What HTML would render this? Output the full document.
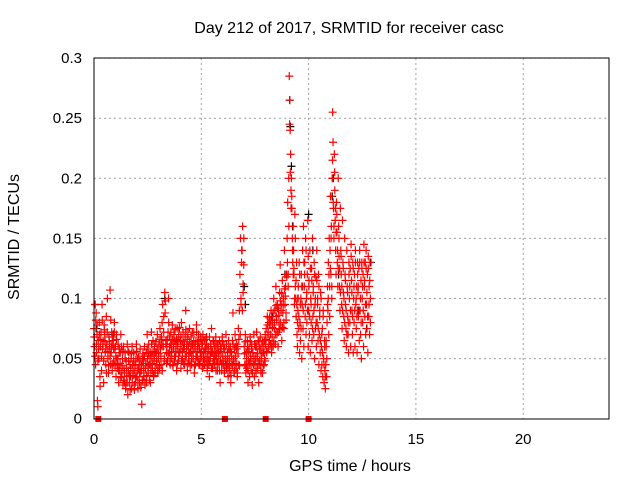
<!DOCTYPE html>
<html><head><meta charset="utf-8"><style>
body{margin:0;background:#fff;font-family:"Liberation Sans",sans-serif}
</style></head><body>
<svg id="chart" width="640" height="480" xmlns="http://www.w3.org/2000/svg" font-family="Liberation Sans, sans-serif">
<rect width="640" height="480" fill="#fff"/>
<text x="349" y="33" font-size="16" text-anchor="middle">Day 212 of 2017, SRMTID for receiver casc</text>
<text transform="translate(19,237) rotate(-90)" font-size="16" text-anchor="middle">SRMTID / TECUs</text>
<text x="350" y="471" font-size="16" text-anchor="middle">GPS time / hours</text>
<g id="grid"></g><g id="ticks"></g><g id="marks"></g>
<rect x="94" y="58" width="515" height="361" fill="none" stroke="#000" stroke-width="1"/>
</svg>
<script>
const xTicks=[0,5,10,15,20];
const yTicks=[0,0.05,0.1,0.15,0.2,0.25,0.3];
const yTickLabels=["0","0.05","0.1","0.15","0.2","0.25","0.3"];
const gapHours=[0.2,6.1,8.0,10.0];
const redBucketHours=[0.0,0.1,0.2,0.3,0.4,0.5,0.6,0.7,0.8,0.9,1.0,1.1,1.2,1.3,1.4,1.5,1.6,1.7,1.8,1.9,2.0,2.1,2.2,2.3,2.4,2.5,2.6,2.7,2.8,2.9,3.0,3.1,3.2,3.3,3.4,3.5,3.6,3.7,3.8,3.9,4.0,4.1,4.2,4.3,4.4,4.5,4.6,4.7,4.8,4.9,5.0,5.1,5.2,5.3,5.4,5.5,5.6,5.7,5.8,5.9,6.0,6.1,6.2,6.3,6.4,6.5,6.6,6.7,6.8,6.9,7.0,7.1,7.2,7.3,7.4,7.5,7.6,7.7,7.8,7.9,8.0,8.1,8.2,8.3,8.4,8.5,8.6,8.7,8.8,8.9,9.0,9.1,9.2,9.3,9.4,9.5,9.6,9.7,9.8,9.9,10.0,10.1,10.2,10.3,10.4,10.5,10.6,10.7,10.8,10.9,11.0,11.1,11.2,11.3,11.4,11.5,11.6,11.7,11.8,11.9,12.0,12.1,12.2,12.3,12.4,12.5,12.6,12.7,12.8];
const redBucketValues=[[75,60,95,45],[88,55,70,15,10],[65,50,80,35],[60,72,40,95],[58,65,30,78],[70,55,45,85],[62,100,50,38],[68,60,107,45],[55,72,40,62],[65,48,80,58],[60,35,70,50],[45,62,30,55],[40,55,70,35],[38,50,28,60],[42,30,55,25],[48,35,62,20],[40,55,30,45],[35,50,25,60],[45,38,55,28],[40,30,48,62],[35,50,25,42],[45,30,58,38],[40,12,50,32],[48,35,60,28],[42,55,30,70],[50,38,62,45],[45,30,55,72],[52,40,65,35],[48,60,38,55],[55,45,70,40],[50,62,42,75],[58,45,68,80],[95,60,85,50],[105,98,65,55],[60,48,72,100],[55,68,45,62],[62,50,78,45],[58,70,48,65],[52,62,40,75],[60,48,70,55],[55,65,42,80],[62,50,72,58],[58,45,68,90],[52,62,40,70],[60,48,75,55],[55,68,45,62],[62,50,72,38],[58,45,65,78],[52,62,48,70],[60,45,55,68],[55,62,42,70],[50,65,45,58],[58,48,68,40],[52,60,45,35],[48,62,55,75],[55,42,65,50],[60,45,52,68],[50,62,40,58],[55,45,65,30],[48,58,40,68],[52,45,62,38],[58,48,70,42],[45,55,35,65],[50,40,60,30],[55,45,65,88],[48,38,58,70],[52,42,62,35],[60,75,45,90],[120,150,95,130],[140,160,105,128],[60,45,70,38],[55,42,65,30],[48,58,35,68],[52,40,62,28],[55,45,70,35],[48,60,38,72],[52,42,65,30],[58,45,68,40],[50,62,38,55],[55,45,65,48],[62,75,55,85],[70,58,80,65],[78,62,90,55],[68,82,60,100],[75,90,62,110],[85,70,95,60],[90,78,105,128],[80,95,65,115],[88,100,75,140],[95,110,82,120],[150,180,120,200],[285,265,240,220,190],[200,175,150,130,160],[140,120,95,170,110],[100,85,130,70,60],[90,110,75,130,55],[80,65,100,120,50],[95,140,75,160,60],[110,130,85,150,70],[100,80,120,165,60],[90,115,70,140,55],[100,80,125,65,150],[85,110,70,130,50],[95,75,118,60,140],[80,100,65,120,45],[70,90,55,105,40],[60,45,75,35,85],[50,30,65,40,25],[45,60,35,80,110],[90,130,70,150,110],[140,185,120,160,100],[200,255,230,175,150],[220,190,165,140,120],[180,155,130,110,200],[160,135,110,90,175],[140,120,95,75,165],[130,105,85,65,150],[120,95,75,60,140],[110,85,70,55,130],[100,80,125,60,145],[115,90,70,130,55],[100,80,120,60,140],[95,75,110,55,130],[105,85,125,65,140],[90,70,115,50,130],[100,80,120,60,145],[110,85,130,70,140],[95,75,120,55,135],[85,110,70,130,100]];
const redExtraValues=[[68,52,82],[62,78,48],[58,70,27],[66,52,82],[62,48,74],[64,58,38],[72,56,44],[64,52,82],[60,68,46],[58,72,44],[52,66,42],[50,40,58],[46,34,60],[44,56,32],[38,50,28],[42,30,56],[48,36,24],[42,54,30],[36,48,24],[44,34,56],[40,30,52],[38,48,26],[44,32,54],[42,52,30],[46,36,58],[44,54,32],[50,40,62],[46,56,36],[52,42,64],[48,58,38],[54,44,66],[52,62,40],[62,72,48],[88,62,46],[66,54,80],[60,50,72],[56,66,44],[62,52,74],[56,66,46],[64,52,76],[58,68,48],[56,64,46],[62,52,74],[58,66,46],[54,64,44],[60,50,72],[56,64,44],[60,52,72],[56,64,46],[58,50,66],[52,62,44],[56,48,66],[54,62,44],[58,48,68],[52,60,42],[56,46,64],[50,60,40],[54,46,62],[52,40,60],[56,46,64],[48,58,40],[52,44,62],[50,42,58],[46,56,36],[52,44,62],[50,40,60],[46,58,38],[54,66,44],[70,100,140],[90,112,150],[54,64,44],[50,60,40],[56,46,64],[48,58,38],[52,44,62],[50,40,60],[54,46,64],[48,58,38],[54,64,44],[60,50,70],[66,56,78],[72,62,84],[70,82,60],[76,88,64],[80,70,94],[82,92,72],[86,74,98],[90,104,76],[94,80,108],[102,88,118],[130,110,160],[245,205,175],[185,140,120],[125,100,150],[115,95,80],[100,85,120],[95,75,110],[110,90,130],[120,95,140],[105,90,135],[110,85,125],[95,115,75],[105,90,120],[100,80,115],[95,75,110],[85,65,100],[70,55,90],[45,60,35],[65,50,95],[100,120,85],[125,150,110],[215,180,160],[205,175,155],[170,140,125],[150,125,105],[135,110,90],[125,100,80],[115,90,70],[105,80,120],[110,90,135],[105,85,125],[110,90,130],[100,85,120],[110,90,130],[100,80,125],[110,90,130],[115,95,125],[105,85,125],[95,115,80]];
const blackHours=[0.05,0.1,0.9,3.3,7.0,7.05,8.3,8.9,9.12,9.15,9.2,9.25,9.5,10.0,10.2,11.1,11.15,11.4,12.3,12.7,12.9];
const blackValues=[0.095,0.075,0.07,0.1,0.11,0.095,0.085,0.12,0.265,0.243,0.21,0.16,0.1,0.17,0.14,0.185,0.2,0.12,0.09,0.075,0.13];
const S='http://www.w3.org/2000/svg';
const xs=h=>94+h*21.46;
const ys=v=>418.7-v*1202;
const grid=document.getElementById('grid'),ticks=document.getElementById('ticks'),marks=document.getElementById('marks');
function mk(tag,attrs,parent){const e=document.createElementNS(S,tag);for(const k in attrs)e.setAttribute(k,attrs[k]);parent.appendChild(e);return e;}
xTicks.forEach(t=>{
 if(t>0){const g=mk('line',{x1:xs(t),x2:xs(t),y1:58,y2:419,stroke:'#a0a0a0','stroke-dasharray':'2,3'},grid);
 
 }
 const l=mk('text',{x:xs(t),y:444,'font-size':15,'text-anchor':'middle'},ticks);l.textContent=t;
 
 
});
yTicks.forEach((t,i)=>{
 if(t>0){const g=mk('line',{x1:94,x2:609,y1:ys(t),y2:ys(t),stroke:'#a0a0a0','stroke-dasharray':'2,3'},grid);
 
 }
 const l=mk('text',{x:82,y:ys(t)+5,'font-size':15,'text-anchor':'end'},ticks);l.textContent=yTickLabels[i];
 
 
});
function plus(h,v,color,name){
 const x=xs(h),y=ys(v);
 const p=mk('path',{d:`M${x-4},${y}h8M${x},${y-4}v8`,stroke:color,'stroke-width':1.2,fill:'none'},marks);
 
 
}
blackHours.forEach((h,i)=>plus(h,blackValues[i],'#000','black-point'));
redBucketHours.forEach((h,i)=>{
 const vals=redBucketValues[i];
 vals.forEach((v,j)=>plus(h+0.1*j/vals.length,v/1000,'#ff0000','red-point'));
 const ex=redExtraValues[i];
 ex.forEach((v,j)=>plus(h+0.015+0.1*j/ex.length,v/1000,'#ff0000','red-point'));
});
gapHours.forEach(h=>{
 const r=mk('rect',{x:xs(h)-3,y:416,width:6,height:6,fill:'#ff0000'},marks);
 
 
});
</script>
</body></html>
